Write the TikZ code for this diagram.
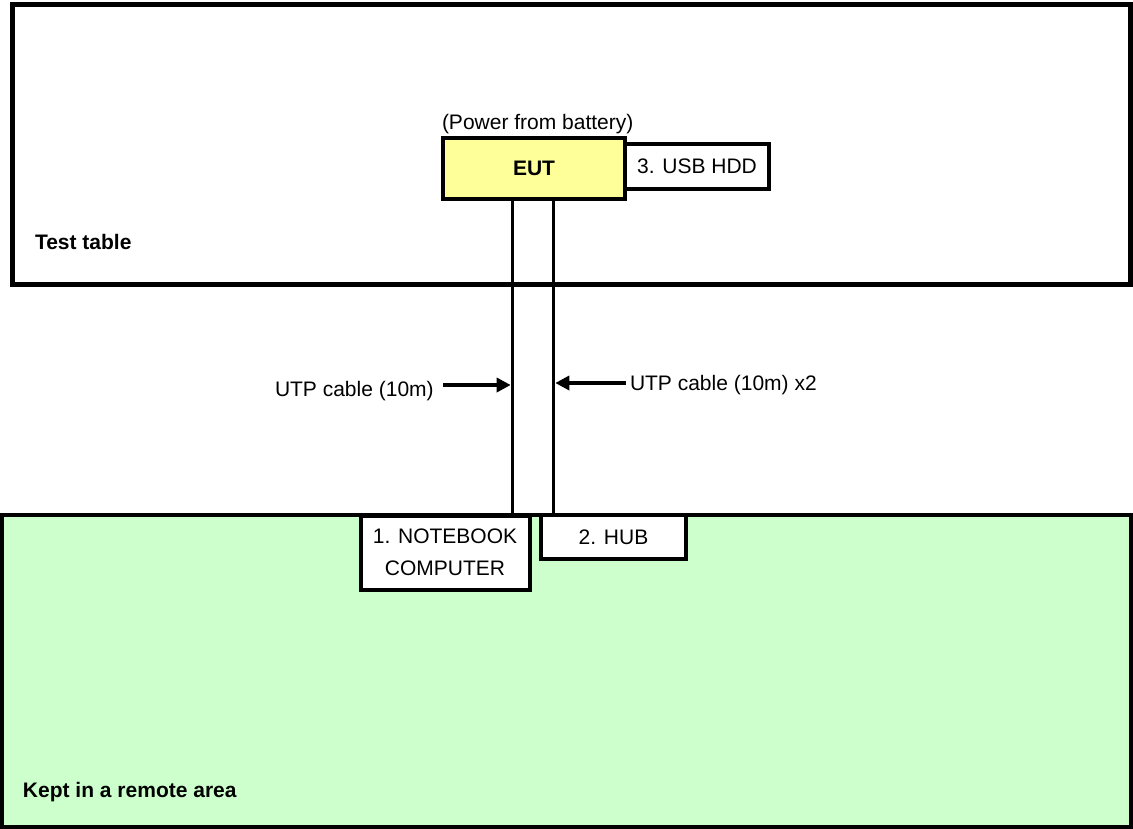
\documentclass[tikz,border=0pt]{standalone}
\usepackage{fontspec}
\setmainfont{Liberation Sans}
\usetikzlibrary{arrows.meta}
\definecolor{euty}{HTML}{FFFF99}
\definecolor{remg}{HTML}{CCFFCC}
\tikzset{
  area/.style={draw=black, rectangle, inner sep=0pt, outer sep=0pt},
  devbox/.style={draw=black, fill=white, line width=4pt, rectangle, inner sep=0pt, outer sep=0pt,
     font=\fontsize{21}{32}\selectfont, align=center},
  lbl/.style={inner sep=0pt, outer sep=0pt, anchor=base west, font=\fontsize{21}{25}\selectfont},
  blbl/.style={lbl, font=\fontsize{21}{25}\selectfont\bfseries},
  cable/.style={line width=3.4pt},
  ptr/.style={line width=3.4pt, -{Triangle[length=14pt,width=14pt]}}
}
\begin{document}
\begin{tikzpicture}[x=1pt,y=-1pt]
\useasboundingbox (0,0) rectangle (1133,828);
% areas
\node[area, line width=5pt, fill=white, minimum width=1118pt, minimum height=280pt] (table) at (571.5,144) {};
\node[area, line width=4pt, fill=remg, minimum width=1129pt, minimum height=312pt] (remote) at (566.5,670.5) {};
\node[blbl] (tabletxt) at (35,249) {Test table};
\node[blbl] (remotetxt) at (23,797.5) {Kept in a remote area};
% devices
\node[devbox, minimum width=144pt, minimum height=44.5pt] (hdd) at (697,166.25) {3. USB HDD};
\node[devbox, fill=euty, minimum width=182pt, minimum height=61pt, font=\fontsize{21}{25}\selectfont\bfseries] (eut) at (534,168.5) {EUT};
\node[lbl] (power) at (442,129) {(Power from battery)};
\node[devbox, minimum width=169pt, minimum height=74pt] (nb) at (445,552.5) {1. NOTEBOOK\\COMPUTER};
\node[devbox, minimum width=144.4pt, minimum height=44.3pt] (hub) at (613.5,537.2) {2. HUB};
% cables
\coordinate (c1) at (512.4,0);
\coordinate (c2) at (553.6,0);
\draw[cable] (eut.south -| c1) -- (nb.north -| c1);
\draw[cable] (eut.south -| c2) -- (hub.north -| c2);
% labels and pointers
\node[lbl] (l1) at (275,396) {UTP cable (10m)};
\node[lbl] (l2) at (630,390) {UTP cable (10m) x2};
\coordinate (a1s) at (443,385);
\coordinate (a1e) at (510.7,385);
\coordinate (a2s) at (626,383);
\coordinate (a2e) at (555.3,383);
\draw[ptr] (a1s) -- (a1e);
\draw[ptr] (a2s) -- (a2e);
\end{tikzpicture}
\end{document}
